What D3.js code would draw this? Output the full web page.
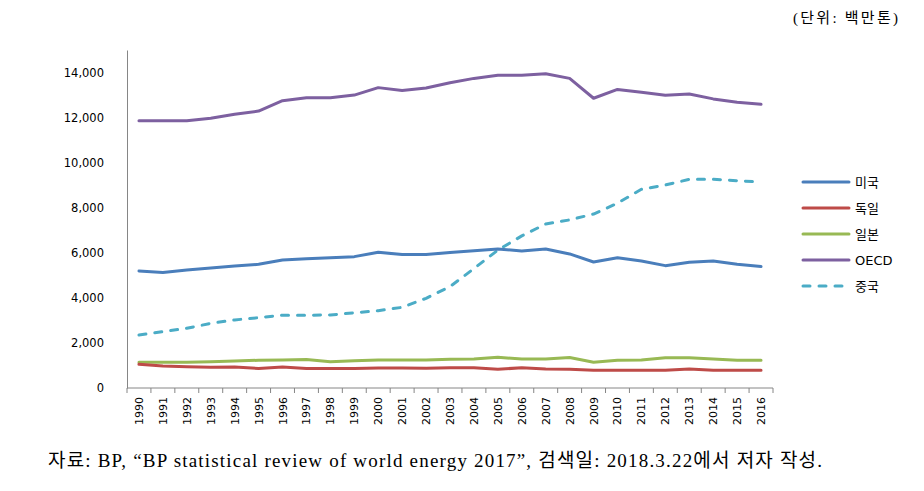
<!DOCTYPE html>
<html><head><meta charset="utf-8">
<script src="https://cdn.jsdelivr.net/npm/d3@7"></script>
<style>
body{margin:0;background:#fff;}
svg{display:block;}
</style></head>
<body>
<svg id="chart" width="924" height="491"></svg>
<script>
const years = ["1990","1991","1992","1993","1994","1995","1996","1997","1998","1999","2000","2001","2002","2003","2004","2005","2006","2007","2008","2009","2010","2011","2012","2013","2014","2015","2016"];
const usa     = [5190,5130,5240,5330,5410,5490,5680,5740,5780,5830,6020,5920,5920,6010,6090,6170,6080,6170,5950,5590,5780,5640,5430,5580,5640,5490,5390];
const germany = [1050,980,940,920,930,870,930,870,870,870,890,890,880,900,900,830,900,840,830,790,790,790,790,840,790,790,790];
const japan   = [1140,1140,1140,1160,1200,1230,1240,1260,1170,1210,1240,1240,1240,1280,1290,1360,1290,1290,1350,1140,1230,1240,1340,1340,1290,1230,1230];
const oecd    = [11860,11860,11860,11970,12150,12290,12750,12880,12880,13000,13330,13200,13310,13550,13740,13880,13880,13950,13740,12860,13250,13120,12990,13050,12830,12680,12590];
const china   = [2350,2500,2650,2870,3020,3120,3230,3230,3240,3340,3430,3580,3980,4500,5300,6120,6750,7280,7460,7720,8200,8820,9010,9260,9260,9200,9140];
const yTicks  = [0,2000,4000,6000,8000,10000,12000,14000];
const seriesNames  = ["미국","독일","일본","OECD","중국"];
const seriesColors = ["#4a7ebb","#be4b48","#98b954","#7d60a0","#4bacc6"];
const seriesData   = [usa, germany, japan, oecd, china];
const seriesDashed = [false,false,false,false,true];
const unitLabel = "(단위: 백만톤)";
const sourceLabel = "자료: BP, “BP statistical review of world energy 2017”, 검색일: 2018.3.22에서 저자 작성.";

(function(){
const svg = d3.select("#chart");
const L = 127, R = 773, T = 50, B = 388;

const x = d3.scaleBand().domain(years).range([L, R]).paddingInner(0).paddingOuter(0);
const y = d3.scaleLinear().domain([0, 15000]).range([B, T]);

// Y axis
const yAxis = svg.append("g").attr("transform", `translate(${L},0)`)
  .call(d3.axisLeft(y).tickValues(yTicks).tickSize(0).tickPadding(23).tickFormat(d3.format(",")));
yAxis.select(".domain").attr("stroke", "#868686").attr("stroke-width", 1);
yAxis.selectAll("text").attr("font-family", "DejaVu Sans, Verdana, sans-serif").attr("font-size", "11.5px").attr("fill", "#000");

// X axis with ticks at band boundaries
const xAxisG = svg.append("g").attr("transform", `translate(0,${B})`);
xAxisG.append("line").attr("x1", L).attr("x2", R).attr("y1", 0).attr("y2", 0)
  .attr("stroke", "#868686").attr("stroke-width", 1);
const bounds = years.map(d => x(d)).concat([R]);
xAxisG.selectAll("line.tk").data(bounds).join("line").attr("class","tk")
  .attr("x1", d => d).attr("x2", d => d).attr("y1", 0).attr("y2", 5)
  .attr("stroke", "#868686").attr("stroke-width", 1);
xAxisG.selectAll("text").data(years).join("text")
  .attr("transform", d => `translate(${x(d) + x.bandwidth()/2 + 4},9) rotate(-90)`)
  .attr("text-anchor", "end")
  .attr("font-family", "DejaVu Sans, Verdana, sans-serif").attr("font-size", "11px").attr("fill", "#000")
  .text(d => d);

// Lines
const line = d3.line().x((d, i) => x(years[i]) + x.bandwidth()/2).y(d => y(d));
const order = [3, 4, 0, 2, 1];
order.forEach(k => {
  svg.append("path").datum(seriesData[k])
    .attr("d", line).attr("fill", "none")
    .attr("stroke", seriesColors[k]).attr("stroke-width", 3)
    .attr("stroke-linejoin", "round").attr("stroke-linecap", "round")
    .attr("stroke-dasharray", seriesDashed[k] ? "7,9" : null);
});

// Legend
const lg = svg.append("g");
seriesNames.forEach((n, i) => {
  const yy = 182 + i * 26;
  lg.append("line").attr("x1", 803).attr("x2", 849).attr("y1", yy).attr("y2", yy)
    .attr("stroke", seriesColors[i]).attr("stroke-width", 3).attr("stroke-linecap", "round")
    .attr("stroke-dasharray", seriesDashed[i] ? "7,9" : null);
  lg.append("text").attr("x", 855).attr("y", yy).attr("dy", "0.35em")
    .attr("font-family", "DejaVu Sans, Noto Sans CJK KR, sans-serif").attr("font-size", "13px").attr("fill", "#000")
    .text(n);
});

// Unit label
svg.append("text").attr("x", 793).attr("y", 18).attr("dy", "0.35em")
  .attr("font-family", "Liberation Serif, Noto Sans CJK KR, serif").attr("font-size", "15px").attr("fill", "#000")
  .attr("textLength", 105).attr("lengthAdjust", "spacing")
  .text(unitLabel);

// Source
svg.append("text").attr("x", 48).attr("y", 467)
  .attr("font-family", "Liberation Serif, Noto Sans CJK KR, serif").attr("font-size", "19px").attr("fill", "#000")
  .attr("textLength", 774).attr("lengthAdjust", "spacing")
  .text(sourceLabel);
})();
</script>
</body></html>
